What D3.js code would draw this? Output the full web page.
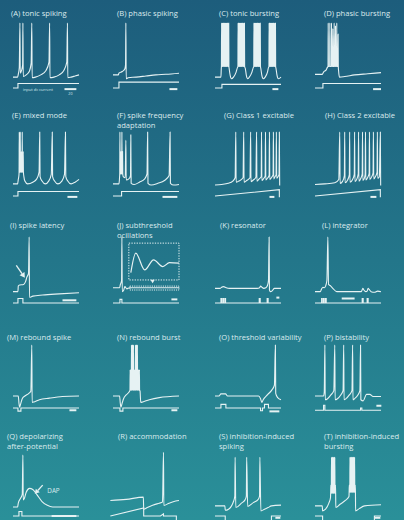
<!DOCTYPE html>
<html><head><meta charset="utf-8">
<script src="https://cdn.jsdelivr.net/npm/d3@7"></script>
<style>
html,body{margin:0;padding:0;background:#246f86;}
svg{display:block;}
</style></head><body>
<svg id="chart" width="404" height="520"></svg>
<script>
// ---- Panel titles ----
const titles = [
  ["(A) tonic spiking"], ["(B) phasic spiking"], ["(C) tonic bursting"], ["(D) phasic bursting"],
  ["(E) mixed mode"], ["(F) spike frequency", "adaptation"], ["(G) Class 1 excitable"], ["(H) Class 2 excitable"],
  ["(I) spike latency"], ["(J) subthreshold", "ocillations"], ["(K) resonator"], ["(L) integrator"],
  ["(M) rebound spike"], ["(N) rebound burst"], ["(O) threshold variability"], ["(P) bistability"],
  ["(Q) depolarizing", "after-potential"], ["(R) accommodation"], ["(S) inhibition-induced", "spiking"], ["(T) inhibition-induced", "bursting"]
];

// ---- Membrane potential traces: [time (0-100), mV]; bursts list spike times ----
const traceA = [[0,-67],[7,-67],[8,-62],[9.5,-50],[10.5,30],[11,-60],[13,-55],[14.6,-45],[15,30],[15.5,-66],[20,-63],[25,-56],[27.5,-42],[28.5,30],[29,-68],[34,-67],[42,-63],[50,-55],[54.5,-40],[55.5,30],[56,-68],[62,-67],[70,-63],[77,-55],[81.5,-40],[82.5,30],[83,-68],[88,-67],[94,-65],[100,-63]];
const traceB = [[0,-63],[8,-63],[9,-60],[14,-57],[18,-52],[19,-45],[19.5,30],[20,-70],[23,-68],[35,-67],[50,-65],[65,-63],[80,-62],[100,-60]];
const traceC = [[0,-67],[9,-67],[9.5,-52],
  {base:-48, spikes:[10,11.2,12.4,13.6,14.8,16,17.2,18.4,19.6,20.8]},
  [21.5,-52],[23,-64],[25,-70],[28,-67],[32,-58],[34,-50],
  {base:-48, spikes:[35,36.2,37.4,38.6,39.8,41,42.2,43.4,44.6]},
  [46,-52],[47.5,-64],[49.5,-70],[52,-67],[56,-58],[58,-50],
  {base:-48, spikes:[59,60.2,61.4,62.6,63.8,65,66.2,67.4,68.6]},
  [69.5,-52],[71,-64],[73,-70],[76,-67],[79.5,-58],[81,-50],
  {base:-48, spikes:[82,83.2,84.4,85.6,86.8,88,89.2,90.4,91.6]},
  [92.5,-52],[94,-64],[96,-70],[100,-67]];
const traceD = [[0,-62],[11,-62],[13,-58],[17,-54],[18.5,-50],
  {base:-48, spikes:[[20,30],[22.5,30],[25,30],[27,20],[29,30],[31,25],[33,30],[35,10]]},
  [35.7,-55],[37,-67],[45,-66],[60,-63],[80,-61],[100,-59]];
const traceE = [[0,-63],[7,-63],[8,-55],[9,-47],
  {base:-42, spikes:[[9.5,30],[11,30],[12.5,-5],[14,30],[15.5,-5]]},
  [16.5,-50],[18,-58],[22,-63],[30,-60],[36,-54],[39.5,-42],[40.5,30],[41,-50],[44,-58],[49,-63],[54,-58],[58,-46],[59.5,30],[60,-50],[63,-58],[68,-63],[74,-58],[78,-46],[79.5,30],[80,-50],[83,-58],[88,-63],[94,-60],[100,-55]];
const traceF = [[0,-63],[9,-63],[10,-50],
  {base:-45, spikes:[[10.5,30],[11.5,-5],[12.5,-5],[13.5,30],[14.5,-5]]},
  [15.5,-50],[18.5,-52],[19.5,15],[20,-56],[24,-54],[26.5,-48],[27,25],[27.5,-62],[32,-64],[40,-60],[48,-54],[51.5,-45],[52.5,30],[53,-62],[58,-65],[68,-62],[78,-57],[85,-48],[86.5,30],[87,-62],[92,-65],[100,-64]];
const traceG = [[0,-65],[10,-64],[20,-62],[27,-58],[30.5,-52],[31.5,30],[32,-60],[36,-58],[42.5,-52],[43.5,30],[44,-60],[48,-57],[53,-52],[54,30],[54.5,-59],[58,-56],[62,-51],[63,30],[63.5,-58],[67,-54],[70,-50],[70.5,30],[71,-57],[74,-53],[76,-49],[76.5,30],[77,-56],[80,-52],[82,-48],[82.5,30],[83,-55],[86,-51],[88,-47],[88.5,30],[89,-54],[91,-50],[92.5,-47],[93,30],[93.5,-53],[96,-49],[97,-46],[97.5,30],[98,-66]];
const traceH = [[0,-64],[15,-63],[30,-61],[36,-55],[37.5,30],[38,-62],[42,-58],[44.5,-48],[45,30],[45.5,-61],[49,-57],[52,-47],[52.5,30],[53,-60],[57,-55],[59.5,-46],[60,30],[60.5,-59],[63.5,-54],[65.5,-45],[66,30],[66.5,-58],[69.5,-53],[71.5,-45],[72,30],[72.5,-57],[75,-52],[76,-46],[76.5,30],[77,-56],[80,-51],[82,-44],[82.5,30],[83,-55],[86,-50],[88,-43],[88.5,30],[89,-54],[92,-49],[94,-42],[94.5,30],[95,-53],[97.5,-50],[99,30],[99.5,-66]];
const traceI = [[0,-68],[7.5,-68],[8,-58],[10,-56],[16,-55],[19,-50],[21,-42],[23.5,-35],[24.5,30],[25,-78],[30,-76],[45,-74],[70,-72],[100,-70]];
const traceJ = [[0,-61],[10,-61],[11,-56],[13,-48],[13.5,30],[14,-68],[16,-66],[18,-59],[21,-63],[25,-61],[100,-61]];
const insetJ = [[27,-34],[34.5,1],[48,-29],[61.5,-11],[75.5,-23],[85.5,-16],[100,-17]];
const traceK = [[0,-62],[8,-62],[10,-60],[13,-59],[17,-61],[22,-62],[64,-62],[67.5,-61],[69,-58],[71,-60],[74,-62],[77,-61],[79.5,-57],[81,-48],[82,30],[82.5,-65],[84,-68],[87,-66],[90,-62],[100,-62]];
const traceL = [[0,-68],[8,-68],[10,-63],[12,-60],[14,-61],[16,-58],[18,-48],[19.5,30],[20.5,-55],[23,-57],[27,-62],[33,-68],[70,-68],[71,-66],[72.5,-62],[74,-65],[77,-68],[79,-67],[80.5,-62],[82,-64],[85,-68],[90,-69],[95,-67],[100,-68]];
const traceM = [[0,-65],[8,-65],[9,-78],[10,-86],[11.5,-80],[14,-70],[18,-65],[24,-60],[27,-56],[28.5,30],[29,-77],[32,-76],[40,-72],[55,-69],[75,-66],[100,-65]];
const traceN = [[0,-65],[10,-65],[11,-78],[12,-86],[13.5,-80],[16,-70],[20,-63],[24,-58],[25.5,-55],
  {base:-54, spikes:[[26,-16],[27,-16],[28,30],[29,30],[30,30],[31,30],[32,-16],[33,-16],[34,30],[35,30],[36,30],[37,30],[38,-16],[39,-16],[40,-16]]},
  [41,-56],[42,-77],[45,-76],[55,-72],[70,-68],[100,-65]];
const traceO = [[0,-65],[6,-65],[9,-61],[16,-61],[19,-65],[66,-65],[69,-70],[71,-77],[73,-72],[80,-62],[86,-54],[90,-45],[91.5,30],[92,-60],[95,-68],[100,-72]];
const traceP = [[0,-65],[13,-65],[14,-58],[15,30],[15.5,-72],[19,-70],[24,-63],[28.5,-55],[30,30],[30.5,-72],[34,-70],[39,-63],[42.5,-55],[43.5,30],[44,-72],[47,-70],[52,-63],[56,-55],[57,30],[57.5,-72],[60,-70],[65,-63],[68,-55],[69,30],[69.5,-72],[73,-74],[78,-62],[83,-62],[88,-66],[100,-66]];
const traceQ = [[0,-65],[7,-65],[8,-58],[11,-50],[14,-42],[15,30],[15.5,-52],[17,-50],[20,-38],[25,-31],[30,-33],[36,-42],[44,-55],[52,-62],[60,-65],[100,-65]];
const traceR = [[-4,-53],[20,-51],[46,-47],[46.5,-69],[52,-66],[60,-62],[70,-58],[75,-56],[76.5,35],[77,-62],[85,-58],[95,-54],[100,-53]];
const traceS = [[0,-63],[15,-63],[15.5,-71],[20.5,-69],[28,-55],[30,-45],[30.5,26],[31.5,-66],[40,-58],[45.5,-52],[47.5,-45],[48,26],[49.5,-64],[58,-57],[65.5,-51],[67.5,-45],[68,26],[69.5,-72],[75,-69],[80.5,-66],[85.5,-63],[100,-61.5]];
const traceT = [[0,-63],[11,-63],[11.5,-72],[16,-69],[21,-58],[23.5,-48],
  {base:-40, spikes:[[24,-25],[25,26],[26,26],[27,26],[28,26],[29,26],[30,26],[31,-25]]},
  [31.5,-66],[38,-60],[46,-53],[51.5,-46],
  {base:-38, spikes:[[52,-25],[53,26],[54,26],[55,26],[56,26],[57,26],[58,26],[59,26],[60,26],[61,-25]]},
  [61.5,-72],[67,-68],[75,-63],[100,-61]];

// ---- Injected current: [time, relative amplitude] ----
const currentA = [[0,0],[7.5,0],[7.5,1],[100,1]];
const currentB = [[0,0],[9,0],[9,1.3],[100,1.3]];
const currentC = [[0,0],[10.5,0],[10.5,0.8],[100,0.8]];
const currentD = [[0,0],[12,0],[12,1],[100,1]];
const currentE = [[0,0],[7.5,0],[7.5,1],[100,1]];
const currentF = [[0,0],[13,0],[13,1],[100,1]];
const currentG = [[0,0],[97.5,1.4],[97.5,-0.3]];
const currentH = [[0,0],[99,1.4],[99,-0.3]];
const currentI = [[0,0],[7.5,0],[7.5,1],[15,1],[15,0],[100,0]];
const currentJ = [[0,0],[10.5,0],[10.5,0.8],[13.5,0.8],[13.5,0],[100,0]];
const currentK = [[0,0],[9,0],[9,1],[10,1],[10,0],[12,0],[12,1],[13,1],[13,0],[15,0],[15,1],[16,1],[16,0],[67,0],[67,1],[68.5,1],[68.5,0],[79,0],[79,1],[80.5,1],[80.5,0],[100,0]];
const currentL = [[0,0],[10,0],[10,1],[11,1],[11,0],[13,0],[13,1],[14,1],[14,0],[16,0],[16,1],[17,1],[17,0],[71.5,0],[71.5,1],[73,1],[73,0],[79,0],[79,1],[80.5,1],[80.5,0],[100,0]];
const currentM = [[0,0],[7.5,0],[7.5,-0.7],[12,-0.7],[12,0],[100,0]];
const currentN = [[0,0],[10.5,0],[10.5,-0.7],[15,-0.7],[15,0],[100,0]];
const currentO = [[0,0],[9,0],[9,0.8],[16.5,0.8],[16.5,0],[69,0],[69,-0.6],[72,-0.6],[72,0],[75,0],[75,0.8],[81,0.8],[81,0],[100,0]];
const currentP = [[0,-0.5],[13,-0.5],[13,0.6],[15,0.6],[15,-0.5],[69,-0.5],[69,0],[71,0],[71,-0.5],[100,-0.5]];
const currentQ = [[0,0],[9,0],[9,1],[13.5,1],[13.5,0],[100,0]];
const currentR = [[-4,0],[46.5,1.8],[46.5,0],[72,0],[76.5,0.5],[76.5,0],[96,0],[96,-1]];
const currentS = [[0,0],[15.5,0],[15.5,-1.2],[85.5,-1.2],[85.5,0],[100,0]];
const currentT = [[0,0],[11.5,0],[11.5,-1.2],[90,-1.2],[90,0],[100,0]];

// ---- Time scale bars: start, length (time units), level (current units) ----
const barStart  = [78, 85.5, 87, 88, 82.5, 75, 82.5, 84, 75, 88.5, 93, 40.5, 85.5, 88.5, 82.5, 93, 58.5, 0, 91.5, 90];
const barLength = [18, 12, 9, 12, 15, 22.5, 7.5, 9, 21, 9, 4.5, 19.5, 10.5, 9, 15, 7.5, 37.5, 0, 7.5, 9];
const barLevel  = [-0.25, -0.25, -0.25, -0.25, -0.2, -0.2, -0.2, -0.2, 0.6, 0.8, 1.2, 1.0, -0.5, -0.5, -0.75, 0.5, 0, 0, -0.4, -0.4];

const traces = [traceA,traceB,traceC,traceD,traceE,traceF,traceG,traceH,traceI,traceJ,traceK,traceL,traceM,traceN,traceO,traceP,traceQ,traceR,traceS,traceT];
const currents = [currentA,currentB,currentC,currentD,currentE,currentF,currentG,currentH,currentI,currentJ,currentK,currentL,currentM,currentN,currentO,currentP,currentQ,currentR,currentS,currentT];

// ---- Layout ----
const W = 404, H = 520;
const colX = [13, 113, 215, 315];
const traceW = 66;
const rows = [
  {top:23,  rest:76,  cur:88,  title:16},
  {top:132, rest:185, cur:196, title:118},
  {top:237, rest:290, cur:303, title:228},
  {top:345, rest:396, cur:408, title:340},
  {top:455, rest:507, cur:516, title:439}
];
const titleX = [11,117,219,324, 12,117,224,325, 10,117,220,322, 7,117,219,324, 7,118,219,324];
const ink = "#e6f2f3";
const textInk = "#dcebee";
const font = "'Open Sans', 'Noto Sans', sans-serif";

const svg = d3.select("#chart");
const defs = svg.append("defs");
const grad = defs.append("linearGradient").attr("id","bg").attr("x1",0).attr("y1",0).attr("x2",0).attr("y2",1);
grad.append("stop").attr("offset","0%").attr("stop-color","#1d5d7c");
grad.append("stop").attr("offset","50%").attr("stop-color","#23768a");
grad.append("stop").attr("offset","100%").attr("stop-color","#2a9099");
svg.append("rect").attr("width",W).attr("height",H).attr("fill","url(#bg)");

function expand(trace){
  const out = [];
  trace.forEach(p => {
    if (Array.isArray(p)) { out.push(p); return; }
    p.spikes.forEach(s => {
      const [t, pk] = Array.isArray(s) ? s : [s, 30];
      out.push([t-0.3, p.base], [t, pk], [t+0.3, p.base]);
    });
  });
  return out;
}

const scalesFor = [];
traces.forEach((tr, i) => {
  const col = i % 4, row = Math.floor(i / 4), R = rows[row];
  const x = d3.scaleLinear().domain([0,100]).range([colX[col], colX[col] + traceW]);
  const y = d3.scaleLinear().domain([-65,30]).range([R.rest, R.top]);
  const c = d3.scaleLinear().domain([0,1]).range([R.cur, R.cur - 4.5]);
  scalesFor.push({x, y, c});
  const g = svg.append("g");

  // title
  const tt = g.append("text").attr("x", titleX[i]).attr("y", R.title)
    .attr("fill", textInk).attr("font-family", font).attr("font-size", 7.6);
  titles[i].forEach((line, k) => tt.append("tspan").attr("x", titleX[i]).attr("dy", k ? 10 : 0).text(line));

  // voltage trace
  g.append("path").datum(expand(tr))
    .attr("d", d3.line().x(d => x(d[0])).y(d => y(d[1])).curve(d3.curveMonotoneX))
    .attr("fill","none").attr("stroke", ink).attr("stroke-width", 1.1).attr("stroke-linejoin","round");

  // input current
  g.append("path").datum(currents[i])
    .attr("d", d3.line().x(d => x(d[0])).y(d => c(d[1])))
    .attr("fill","none").attr("stroke", ink).attr("stroke-width", 1.1);

  // time scale bar
  if (barLength[i] > 0) {
    g.append("line")
      .attr("x1", x(barStart[i])).attr("x2", x(barStart[i] + barLength[i]))
      .attr("y1", c(barLevel[i])).attr("y2", c(barLevel[i]))
      .attr("stroke", ink).attr("stroke-width", 2);
  }
});

// (A) labels for the input and scale bar
{
  const {x, c} = scalesFor[0];
  svg.append("text").attr("x", x(15)).attr("y", c(-0.25) + 1.4)
    .attr("fill", textInk).attr("font-family", font).attr("font-size", 4).text("input dc current");
  svg.append("text").attr("x", x(87)).attr("y", c(-1.6)).attr("text-anchor","middle")
    .attr("fill", textInk).attr("font-family", font).attr("font-size", 3.6).text("20");
}

// arrow helper
function arrow(x1, y1, x2, y2, head) {
  const a = Math.atan2(y2 - y1, x2 - x1);
  const bx = x2 - head * Math.cos(a), by = y2 - head * Math.sin(a);
  svg.append("line").attr("x1", x1).attr("y1", y1).attr("x2", bx).attr("y2", by)
    .attr("stroke", ink).attr("stroke-width", 1.3);
  const w = head * 0.6;
  const pts = [[x2, y2],
    [bx + w * Math.sin(a), by - w * Math.cos(a)],
    [bx - w * Math.sin(a), by + w * Math.cos(a)]];
  svg.append("polygon").attr("points", pts.map(p => p.join(",")).join(" ")).attr("fill", ink);
}

// (I) latency arrow
{
  const {x, y} = scalesFor[8];
  arrow(x(5), y(-21), x(18), y(-43), 5);
}

// (J) magnified oscillation inset
{
  const {x, y} = scalesFor[9];
  svg.append("rect").attr("x", x(24)).attr("y", y(19)).attr("width", x(100) - x(24)).attr("height", y(-47) - y(19))
    .attr("fill","none").attr("stroke", ink).attr("stroke-width", 1).attr("stroke-dasharray","1.3,1.3");
  svg.append("rect").attr("x", x(25.5)).attr("y", y(-58)).attr("width", x(100) - x(25.5)).attr("height", y(-65) - y(-58))
    .attr("fill","none").attr("stroke", ink).attr("stroke-width", 1).attr("stroke-dasharray","1.1,1.1");
  svg.append("path").datum(insetJ)
    .attr("d", d3.line().x(d => x(d[0])).y(d => y(d[1])).curve(d3.curveMonotoneX))
    .attr("fill","none").attr("stroke", ink).attr("stroke-width", 1.2);
  const tx = x(60), ty = y(-50);
  svg.append("polygon").attr("points", `${tx-2.2},${ty-2} ${tx+2.2},${ty-2} ${tx},${ty+1.5}`).attr("fill", ink);
}

// (Q) DAP arrow and label
{
  const {x, y} = scalesFor[16];
  arrow(x(45), y(-25), x(33), y(-41), 4.5);
  svg.append("text").attr("x", x(52)).attr("y", y(-40)).attr("fill", textInk)
    .attr("font-family", font).attr("font-size", 6.3).text("DAP");
}
</script></body></html>
